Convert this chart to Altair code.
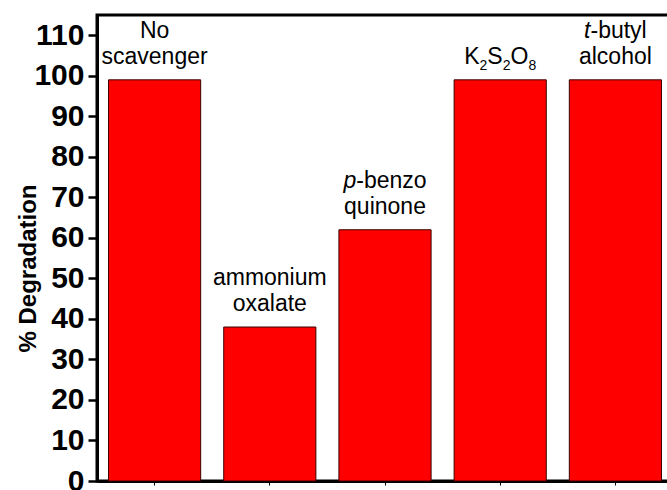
import altair as alt
import pandas as pd

# ---- data ----
categories = ["No scavenger", "ammonium oxalate", "p-benzo quinone", "K2S2O8", "t-butyl alcohol"]
degradation = [99, 38, 62, 99, 99]
y_tick_values = list(range(0, 115, 5))

# label text runs per category: list of lines (top -> bottom), each a list of (text, style)
# style: n = normal, i = italic, s = subscript
label_lines = [
    [[("No", "n")], [("scavenger", "n")]],
    [[("ammonium", "n")], [("oxalate", "n")]],
    [[("p", "i"), ("-benzo", "n")], [("quinone", "n")]],
    [[("K", "n"), ("2", "s"), ("S", "n"), ("2", "s"), ("O", "n"), ("8", "s")]],
    [[("t", "i"), ("-butyl", "n")], [("alcohol", "n")]],
]

df = pd.DataFrame({"cat": categories, "value": degradation})

FONT = "Liberation Sans"
FS = 23        # label font size
SUB = 14       # subscript font size
SUB_DY = 6     # subscript drop
LH = 26        # line height
GAP = 16       # gap between last baseline and bar top

# Arial / Liberation Sans advance widths (per 1000 em)
AW = {'N': 722, 'o': 556, 's': 500, 'c': 500, 'a': 556, 'v': 500, 'e': 556, 'n': 556,
      'g': 556, 'r': 333, 'm': 833, 'i': 222, 'u': 556, 'l': 222, 'x': 500, 't': 278,
      'p': 556, '-': 333, 'b': 556, 'z': 500, 'q': 556, 'K': 667, 'S': 667, 'O': 778,
      'y': 500, 'h': 556, '2': 556, '8': 556}


def run_width(text, size):
    return sum(AW.get(ch, 556) for ch in text) * size / 1000.0


x_scale = alt.Scale(paddingInner=0.2, paddingOuter=0.1)
y_scale = alt.Scale(domain=[0, 115], nice=False, zero=True)

bars = alt.Chart(df).mark_bar(
    color="#FF0000", stroke="#3a0000", strokeWidth=1
).encode(
    x=alt.X("cat:N", sort=categories, scale=x_scale, title=None, axis=alt.Axis(
        orient="bottom", labels=False, domainColor="black", domainWidth=3,
        ticks=True, tickSize=4, tickWidth=1, tickColor="black", grid=False
    )),
    y=alt.Y("value:Q", scale=y_scale, title="% Degradation", axis=alt.Axis(
        orient="left",
        values=y_tick_values,
        labelExpr="datum.value % 10 === 0 ? datum.label : ''",
        tickSize={"condition": {"test": "datum.value % 10 === 0", "value": 9}, "value": 5},
        tickWidth=2.5, tickColor="black",
        domainColor="black", domainWidth=3,
        labelFont=FONT, labelFontSize=30, labelFontWeight="bold", labelColor="black",
        labelPadding=4, labelOverlap=False, labelBound=False, labelFlush=False,
        titleFont=FONT, titleFontSize=24, titleFontWeight="bold", titleColor="black",
        titleAngle=270, titleAlign="center", titleBaseline="alphabetic",
        titleX=-62, titleY=253, grid=False
    )),
)

layers = [bars]
for cat, val, lines in zip(categories, degradation, label_lines):
    n = len(lines)
    for li, runs in enumerate(lines):
        base_dy = -GAP - (n - 1 - li) * LH
        sizes = [SUB if st == "s" else FS for _, st in runs]
        widths = [run_width(t, s) for (t, _), s in zip(runs, sizes)]
        total = sum(widths)
        if len(runs) == 1:
            starts = [0.0]
            align = "center"
        else:
            starts = []
            cur = -total / 2.0
            for w in widths:
                starts.append(cur)
                cur += w
            align = "left"
        for (txt, st), sz, dx in zip(runs, sizes, starts):
            mark = alt.Chart(df).transform_filter(
                alt.datum.cat == cat
            ).mark_text(
                text=txt, font=FONT, fontSize=sz, color="black",
                fontStyle="italic" if st == "i" else "normal",
                align=align, baseline="alphabetic",
                dx=dx, dy=base_dy + (SUB_DY if st == "s" else 0),
            ).encode(
                x=alt.X("cat:N", sort=categories, scale=x_scale),
                y=alt.Y("value:Q", scale=y_scale),
            )
            layers.append(mark)

chart = alt.layer(*layers).properties(
    width=576, height=466,
    autosize=alt.AutoSizeParams(type="none"),
    padding={"left": 97, "top": 15, "right": -6, "bottom": 9},
    background="white",
).configure_view(stroke="black", strokeWidth=3)

chart.save("out.html", embed_options={"renderer": "svg", "actions": False})
